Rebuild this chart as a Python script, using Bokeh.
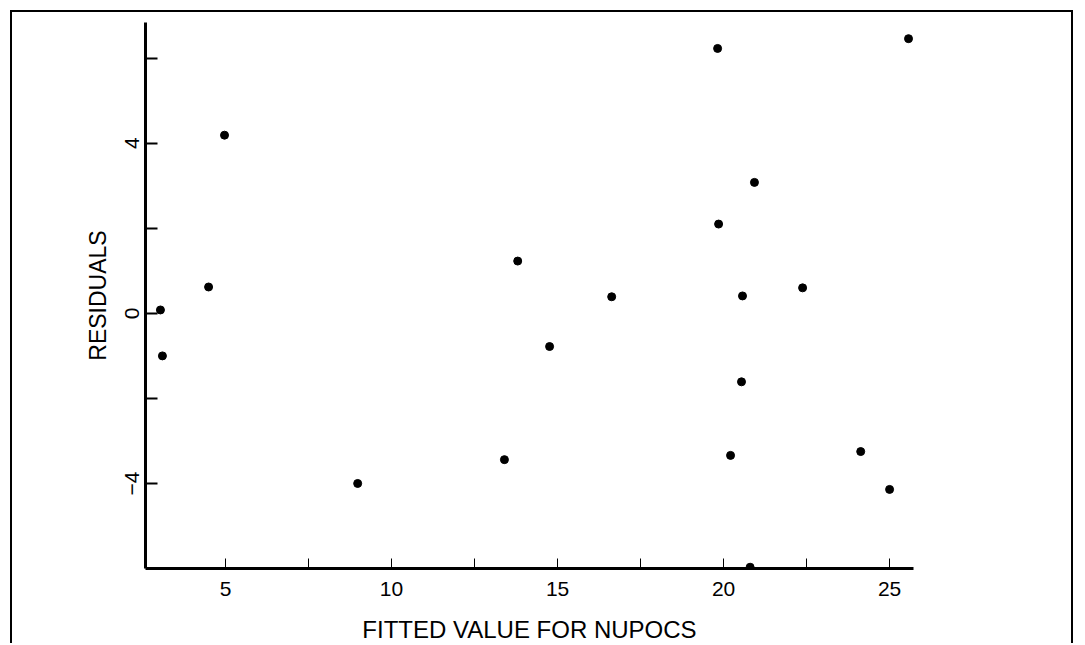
from bokeh.plotting import figure
from bokeh.models import Range1d, FixedTicker, ColumnDataSource
from bokeh.embed import file_html
from bokeh.resources import INLINE

# Data (fitted values vs residuals)
fitted = [4.97, 4.49, 3.04, 3.10, 8.98, 14.76, 13.40, 20.54, 20.21, 20.80,
          19.82, 20.93, 19.85, 13.80, 16.63, 20.57, 25.57, 22.38, 24.13, 25.00]
residuals = [4.19, 0.62, 0.08, -1.00, -4.00, -0.78, -3.44, -1.61, -3.34, -5.97,
             6.23, 3.08, 2.10, 1.23, 0.39, 0.41, 6.46, 0.60, -3.25, -4.14]

x_major_ticks = [5, 10, 15, 20, 25]
x_minor_ticks = [7.5, 12.5, 17.5, 22.5]
y_major_ticks = [-4, 0, 4]
y_minor_ticks = [-2, 2, 6]

x_title = "FITTED VALUE FOR NUPOCS"
y_title = "RESIDUALS"

FONT = "Liberation Sans"

src = ColumnDataSource(data=dict(x=fitted, y=residuals))

p = figure(width=1063, height=633, output_backend="svg", toolbar_location=None,
           x_range=Range1d(2.59, 25.72), y_range=Range1d(-6.0, 6.84),
           min_border_left=133, min_border_right=162,
           min_border_top=10, min_border_bottom=76)
p.styles = {"border-left": "2px solid black", "border-top": "2px solid black",
            "border-right": "2px solid black", "margin-left": "10px", "margin-top": "10px"}

p.scatter("x", "y", source=src, size=8, color="black", marker="circle")

p.grid.visible = False
p.outline_line_color = None
p.background_fill_color = "white"
p.border_fill_color = "white"

xa = p.xaxis[0]
xa.ticker = FixedTicker(ticks=x_major_ticks, minor_ticks=x_minor_ticks)
xa.axis_line_width = 3
xa.axis_line_color = "black"
xa.major_tick_in = 10
xa.major_tick_out = 0
xa.minor_tick_in = 10
xa.minor_tick_out = 0
xa.major_tick_line_width = 1
xa.minor_tick_line_width = 1
xa.major_tick_line_color = "black"
xa.minor_tick_line_color = "black"
xa.major_label_text_font = FONT
xa.major_label_text_font_size = "21px"
xa.major_label_text_color = "black"
xa.major_label_standoff = 13
xa.axis_label = x_title
xa.axis_label_text_font = FONT
xa.axis_label_text_font_size = "24px"
xa.axis_label_text_font_style = "normal"
xa.axis_label_text_color = "black"
xa.axis_label_standoff = 17

ya = p.yaxis[0]
ya.ticker = FixedTicker(ticks=y_major_ticks, minor_ticks=y_minor_ticks)
ya.axis_line_width = 3
ya.axis_line_color = "black"
ya.major_tick_in = 12
ya.major_tick_out = 0
ya.minor_tick_in = 12
ya.minor_tick_out = 0
ya.major_tick_line_width = 2
ya.minor_tick_line_width = 2
ya.major_tick_line_color = "black"
ya.minor_tick_line_color = "black"
ya.major_label_orientation = "vertical"
ya.major_label_text_font = FONT
ya.major_label_text_font_size = "21px"
ya.major_label_text_color = "black"
ya.major_label_standoff = 6
ya.axis_label = y_title
ya.axis_label_text_font = FONT
ya.axis_label_text_font_size = "23px"
ya.axis_label_text_font_style = "normal"
ya.axis_label_text_color = "black"
ya.axis_label_standoff = 12

open("out.html", "w").write(file_html(p, INLINE))
